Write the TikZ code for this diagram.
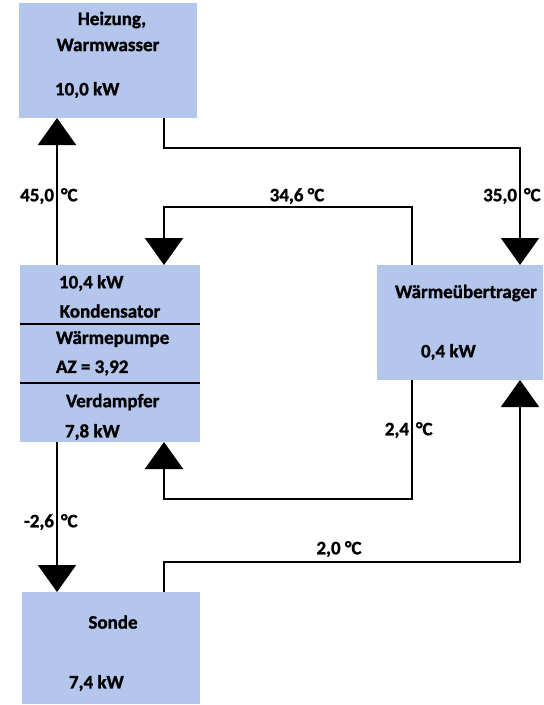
\documentclass[tikz,border=0pt]{standalone}
\usepackage{fontspec}
\setmainfont{Carlito}[BoldFeatures={FakeBold=1.2}]
\usetikzlibrary{arrows.meta}

\definecolor{boxblue}{RGB}{180,198,236}
\newcommand{\splitlab}[2]{\makebox[0pt][r]{#1\hspace{3bp}}\makebox[0pt][l]{\hspace{4bp}#2}}

\tikzset{
    unit/.style={fill=boxblue, draw=none, inner sep=0pt, outer sep=0pt},
    lab/.style={inner sep=0pt, font=\fontsize{19bp}{23bp}\selectfont\bfseries},
}

\begin{document}
\begin{tikzpicture}[x=1bp,y=-1bp,line width=2bp,>={Triangle[width=38bp,length=27bp]}]
\useasboundingbox (0,0) rectangle (544,705);

% boxes
\node[unit, minimum width=178bp, minimum height=115bp] (heiz) at (108,60.5) {};
\node[unit, minimum width=180bp, minimum height=177bp] (wp) at (110,353.5) {};
\node[unit, minimum width=166bp, minimum height=115bp] (wue) at (460,322.5) {};
\node[unit, minimum width=177bp, minimum height=112bp] (sonde) at (111,648) {};

% columns and rows of the pipes
\coordinate (c1) at (57,0);
\coordinate (c2) at (164,0);
\coordinate (c3) at (412,0);
\coordinate (c4) at (520,0);
\coordinate (r1) at (0,148);
\coordinate (r2) at (0,207);
\coordinate (r3) at (0,499);
\coordinate (r4) at (0,562);
\coordinate (d1) at (0,324);
\coordinate (d2) at (0,383);

\draw (wp.west |- d1) -- (wp.east |- d1);
\draw (wp.west |- d2) -- (wp.east |- d2);

% texts
\node[lab] (heiz1) at (112,20) {Heizung,};
\node[lab] (heiz2) at (108,45) {Warmwasser};
\node[lab, anchor=west] (heiz3) at (54,90) {10,0 kW};

\node[lab, anchor=west] (wp1) at (58,283) {10,4 kW};
\node[lab] (wp2) at (110,311) {Kondensator};
\node[lab, anchor=west] (wp3) at (55,339) {Wärmepumpe};
\node[lab, anchor=west] (wp4) at (55,368) {AZ = 3,92};
\node[lab, anchor=west] (wp5) at (65,402) {Verdampfer};
\node[lab, anchor=west] (wp6) at (64,432) {7,8 kW};

\node[lab] (wue1) at (466,293) {Wärmeübertrager};
\node[lab, anchor=west] (wue2) at (420,352) {0,4 kW};

\node[lab] (sonde1) at (113,622) {Sonde};
\node[lab, anchor=west] (sonde2) at (68,683) {7,4 kW};

% pipes
\draw[->] (wp.north -| c1) -- (heiz.south -| c1);
\draw[->] (heiz.south -| c2) |- (r1 -| c4) -- (wue.north -| c4);
\draw[->] (wue.north -| c3) |- (r2 -| c2) -- (wp.north -| c2);
\draw[->] (wue.south -| c3) |- (r3 -| c2) -- (wp.south -| c2);
\draw[->] (wp.south -| c1) -- (sonde.north -| c1);
\draw[->] (sonde.north -| c2) |- (r4 -| c4) -- (wue.south -| c4);

% temperatures
\node[lab] (t45) at (57,196) {\splitlab{45,0}{°C}};
\node[lab] (t35) at (520,196) {\splitlab{35,0}{°C}};
\node[lab] (t346) at (297,196) {34,6 °C};
\node[lab] (t24) at (412,430) {\splitlab{2,4}{°C}};
\node[lab] (tm26) at (57,522) {\splitlab{-2,6}{°C}};
\node[lab] (t20) at (339,549) {2,0 °C};
\end{tikzpicture}
\end{document}
